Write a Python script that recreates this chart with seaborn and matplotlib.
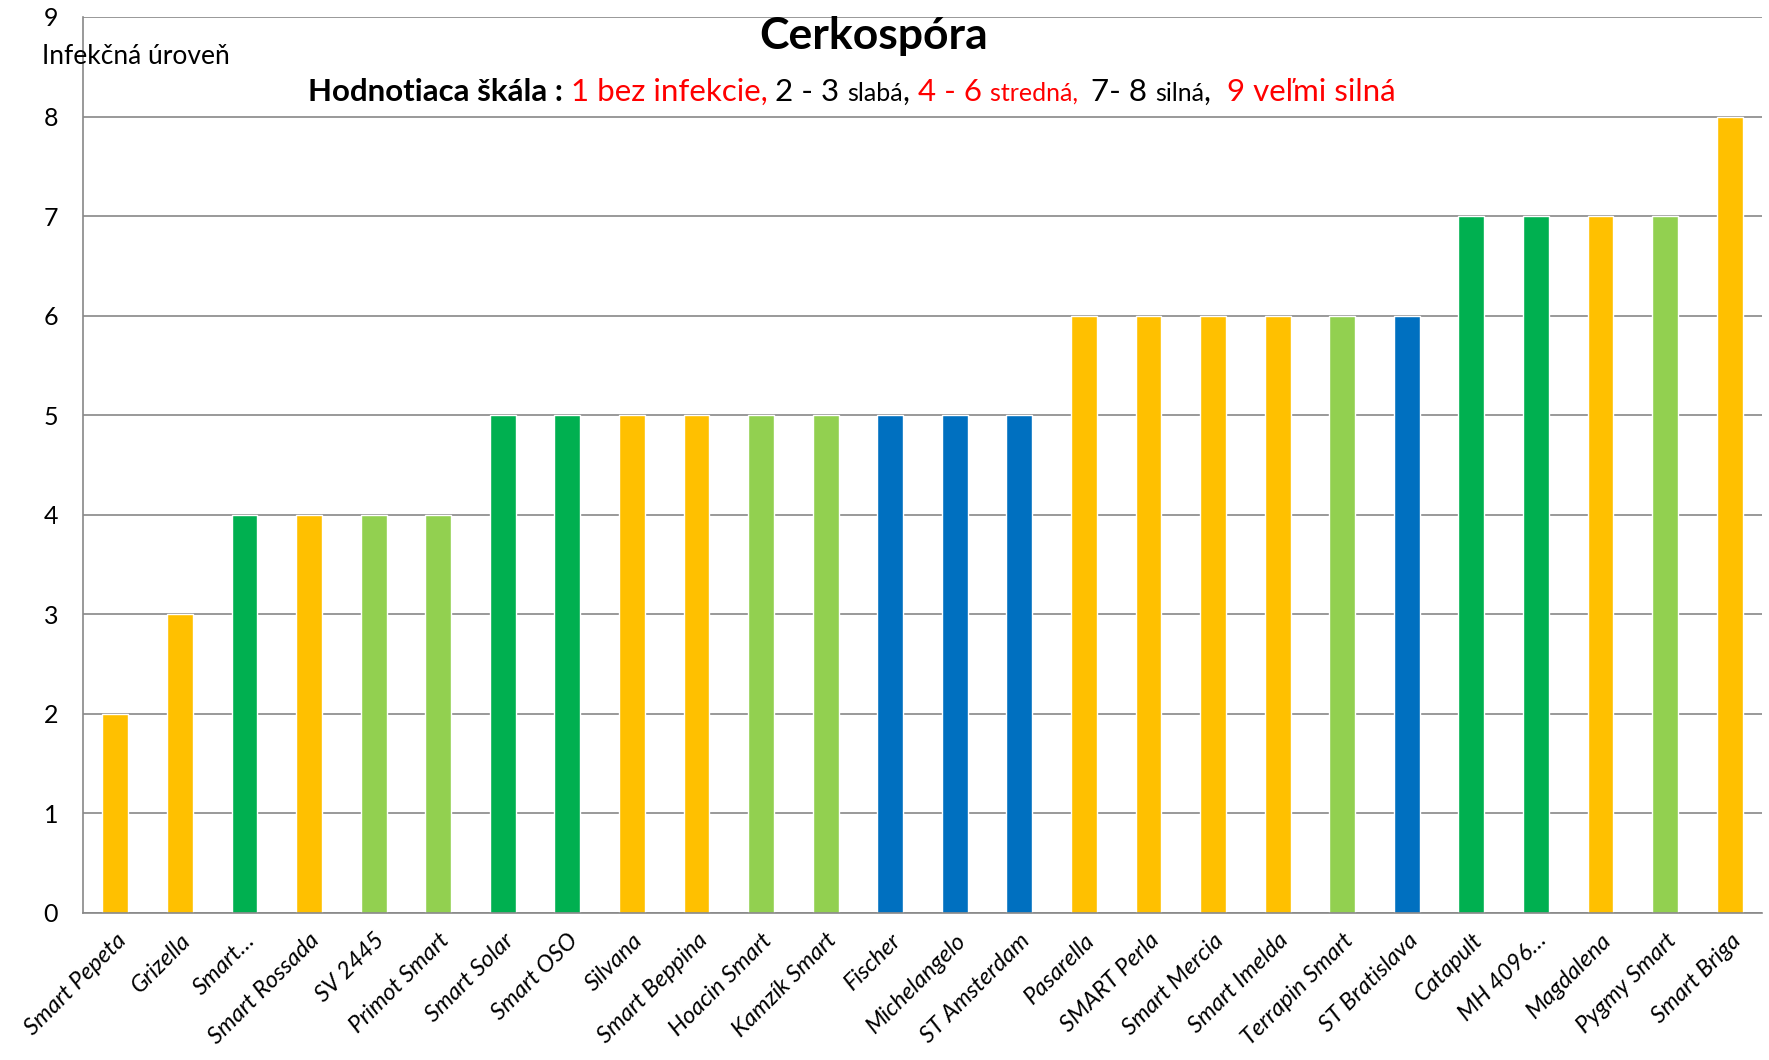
import matplotlib
matplotlib.use('Agg')
import matplotlib.pyplot as plt
import seaborn as sns
import pandas as pd

odrody = ['Smart Pepeta', 'Grizella', 'Smart…', 'Smart Rossada', 'SV 2445', 'Primot Smart',
          'Smart Solar', 'Smart OSO', 'Silvana', 'Smart Beppina', 'Hoacin Smart', 'Kamzík Smart',
          'Fischer', 'Michelangelo', 'ST Amsterdam', 'Pasarella', 'SMART Perla', 'Smart Mercia',
          'Smart Imelda', 'Terrapin Smart', 'ST Bratislava', 'Catapult', 'MH 4096…', 'Magdalena',
          'Pygmy Smart', 'Smart Briga']
uroven = [2, 3, 4, 4, 4, 4, 5, 5, 5, 5, 5, 5, 5, 5, 5, 6, 6, 6, 6, 6, 6, 7, 7, 7, 7, 8]
skupina = ['o', 'o', 'g', 'o', 'l', 'l', 'g', 'g', 'o', 'o', 'l', 'l', 'b', 'b', 'b',
           'o', 'o', 'o', 'o', 'l', 'b', 'g', 'g', 'o', 'l', 'o']

farby = {'o': '#FFC000', 'g': '#00B050', 'l': '#92D050', 'b': '#0070C0'}

df = pd.DataFrame({'odroda': odrody, 'uroven': uroven, 'skupina': skupina})

sns.set_style('white')
plt.rcParams['font.family'] = ['Lato', 'DejaVu Sans']
plt.rcParams['text.color'] = 'black'
plt.rcParams['xtick.labelcolor'] = 'black'
plt.rcParams['ytick.labelcolor'] = 'black'

fig = plt.figure(figsize=(17.69, 10.6), dpi=100)
ax = fig.add_axes([83/1769, 1 - 913/1060, (1762-83)/1769, (913-17)/1060])

sns.barplot(x='odroda', y='uroven', hue='skupina', data=df, palette=farby,
            dodge=False, width=0.4, legend=False, ax=ax, saturation=1)

ax.set_ylim(0, 9)
ax.set_xlim(-0.5, len(odrody) - 0.5)
ax.set_yticks(range(10))
ax.yaxis.grid(True, color='#888888', linewidth=1.2)
ax.set_axisbelow(True)
ax.set_xlabel('')
ax.set_ylabel('')
for s in ['top', 'right']:
    ax.spines[s].set_visible(False)
for s in ['left', 'bottom']:
    ax.spines[s].set_color('#888888')
    ax.spines[s].set_linewidth(1.2)

# tiky medzi kategoriami
ax.set_xticks([i - 0.5 for i in range(len(odrody) + 1)])
ax.set_xticklabels([])
ax.set_xticks(range(len(odrody)), minor=True)
ax.set_xticklabels(odrody, minor=True, rotation=45, ha='right', rotation_mode='anchor',
                   fontsize=17, style='italic', color='black')
ax.tick_params(axis='x', which='major', length=8, color='#888888', width=1.2, direction='out')
ax.tick_params(axis='x', which='minor', length=0, pad=12)
ax.tick_params(axis='y', length=6, color='#888888', width=1.2, labelsize=18, pad=12,
               labelcolor='black')

fig.text(42/1769, 1 - 56/1060, 'Infekčná úroveň', fontsize=19, va='center', ha='left')
fig.text(874/1769, 1 - 36/1060, 'Cerkospóra', fontsize=32, fontweight='bold', ha='center', va='center')

# podnadpis z viacerych kusov
casti = [('Hodnotiaca škála : ', 'black', 22.5, 'bold'),
         ('1 bez infekcie, ', 'red', 22.5, 'normal'),
         ('2 - 3 ', 'black', 22.5, 'normal'),
         ('slabá', 'black', 18, 'normal'),
         (', ', 'black', 22.5, 'normal'),
         ('4 - 6 ', 'red', 22.5, 'normal'),
         ('stredná,  ', 'red', 18, 'normal'),
         ('7- 8 ', 'black', 22.5, 'normal'),
         ('silná', 'black', 18, 'normal'),
         (',  ', 'black', 22.5, 'normal'),
         ('9 veľmi silná', 'red', 22.5, 'normal')]
renderer = fig.canvas.get_renderer()
x = 308
y = 1 - 101/1060
for txt, c, fs, fw in casti:
    t = fig.text(x/1769, y, txt, color=c, fontsize=fs, fontweight=fw, ha='left', va='baseline')
    bb = t.get_window_extent(renderer=renderer)
    x += bb.width

fig.savefig('out.png', dpi=100)
